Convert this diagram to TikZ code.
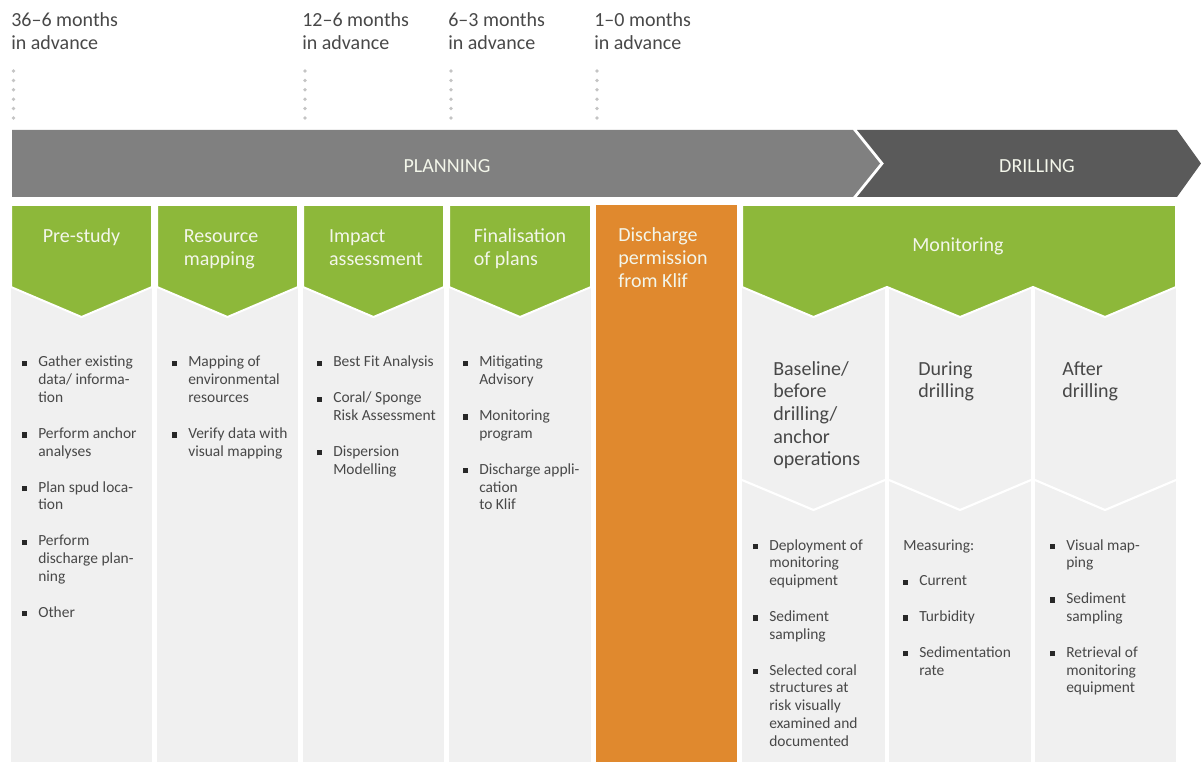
\documentclass[tikz,border=0pt]{standalone}
\usepackage{fontspec}
\setmainfont{Carlito}
\definecolor{grn}{RGB}{141,184,58}
\definecolor{orng}{RGB}{224,137,46}
\definecolor{lgray}{RGB}{240,240,240}
\definecolor{plang}{RGB}{128,128,128}
\definecolor{drillg}{RGB}{90,90,90}
\definecolor{txt}{RGB}{72,72,72}
\definecolor{bulc}{RGB}{40,40,40}
\definecolor{headtxt}{RGB}{243,246,234}
\definecolor{dotc}{RGB}{196,196,196}
\newcommand{\bu}{\makebox[12pt][l]{\textcolor{bulc}{\rule[0.7pt]{3.9pt}{3.9pt}}}}
\newcommand{\ii}{\hspace*{12pt}}
\newcommand{\tb}[1]{\begin{tabular}[t]{@{}l@{}}#1\end{tabular}}
\tikzset{
  bigfont/.style={font=\fontsize{15pt}{17pt}\selectfont},
  smallfont/.style={font=\fontsize{11.6pt}{13.4pt}\selectfont},
  toplab/.style={bigfont, text=txt, inner sep=0pt, anchor=base west},
  headlab/.style={bigfont, text=headtxt, inner sep=0pt, anchor=base},
  bandlab/.style={bigfont, text=headtxt, inner sep=0pt, anchor=base},
  sublab/.style={bigfont, text=txt, inner sep=0pt, anchor=base west},
  listlab/.style={smallfont, text=txt, inner sep=0pt, anchor=base west},
  colbox/.style={fill=lgray},
  greenhead/.style={fill=grn, draw=white, line width=1.5pt, line join=miter},
  whiteline/.style={draw=white, line width=1.6pt},
  dotmark/.style={fill=dotc}
}
\begin{document}
\begin{tikzpicture}[x=0.75pt, y=-0.75pt]
\useasboundingbox (0,0) rectangle (1201,762);

% top labels
\node[toplab] (t1) at (11,27) {\tb{36–6 months\\in advance}};
\node[toplab] (t2) at (302,27) {\tb{12–6 months\\in advance}};
\node[toplab] (t3) at (448,27) {\tb{6–3 months\\in advance}};
\node[toplab] (t4) at (594,27) {\tb{1–0 months\\in advance}};

% dotted markers
\foreach \xx in {13.5,305,451,597}{
  \foreach \k in {0,...,5}{
    \fill[dotmark] (\xx,{71+\k*9.4}) circle[radius=1.4pt];
  }
}

% band
\fill[drillg] (857,130) -- (1177,130) -- (1201,163.5) -- (1177,197) -- (857,197) -- (884,163.5) -- cycle;
\fill[plang] (12,130) -- (853,130) -- (880,163.5) -- (853,197) -- (12,197) -- cycle;
\node[bandlab] (planning) at (447,173) {PLANNING};
\node[bandlab] (drilling) at (1037,173) {DRILLING};

% grey columns
\fill[colbox] (11,280) rectangle (152,762);
\fill[colbox] (157,280) rectangle (298,762);
\fill[colbox] (303,280) rectangle (444,762);
\fill[colbox] (449,280) rectangle (591,762);
\fill[orng] (596,205) rectangle (737,762);
\fill[colbox] (742,280) rectangle (885,762);
\fill[colbox] (889,280) rectangle (1031,762);
\fill[colbox] (1035,280) rectangle (1176,762);

% green chevrons
\filldraw[greenhead] (11,205) -- (152,205) -- (152,287) -- (81.5,317) -- (11,287) -- cycle;
\filldraw[greenhead] (157,205) -- (298,205) -- (298,287) -- (227.5,317) -- (157,287) -- cycle;
\filldraw[greenhead] (303,205) -- (444,205) -- (444,287) -- (373.5,317) -- (303,287) -- cycle;
\filldraw[greenhead] (449,205) -- (591,205) -- (591,287) -- (520,317) -- (449,287) -- cycle;
\filldraw[greenhead] (742,205) -- (1176,205) -- (1176,287) -- (1105,317) -- (1033,287) -- (960,317) -- (887,287) -- (813.5,317) -- (742,287) -- cycle;

% lower white chevrons in monitoring
\draw[whiteline] (742,480) -- (813.5,510) -- (885,480);
\draw[whiteline] (889,480) -- (960,510) -- (1031,480);
\draw[whiteline] (1035,480) -- (1105,510) -- (1176,480);

% headers
\node[headlab] (h1) at (81.5,243) {\tb{Pre-study}};
\node[headlab] (h2) at (221,243) {\tb{Resource\\mapping}};
\node[headlab] (h3) at (376,243) {\tb{Impact\\assessment}};
\node[headlab] (h4) at (520,243) {\tb{Finalisation\\of plans}};
\node[headlab] (h5) at (663,242) {\tb{Discharge\\permission\\from Klif}};
\node[headlab] (h6) at (958,252) {Monitoring};

% monitoring sub headers
\node[sublab] (s1) at (773,375) {\tb{Baseline/\\before\\drilling/\\anchor\\operations}};
\node[sublab] (s2) at (918,375) {\tb{During\\drilling}};
\node[sublab] (s3) at (1062,375) {\tb{After\\drilling}};

% lists
\node[listlab] (l1) at (22,367) {\tb{\bu Gather existing\\ \ii data/ informa-\\ \ii tion\\[13.4pt]
  \bu Perform anchor\\ \ii analyses\\[13.4pt]
  \bu Plan spud loca-\\ \ii tion\\[13.4pt]
  \bu Perform\\ \ii discharge plan-\\ \ii ning\\[13.4pt]
  \bu Other}};
\node[listlab] (l2) at (172,367) {\tb{\bu Mapping of\\ \ii environmental\\ \ii resources\\[13.4pt]
  \bu Verify data with\\ \ii visual mapping}};
\node[listlab] (l3) at (317,367) {\tb{\bu Best Fit Analysis\\[13.4pt]
  \bu Coral/ Sponge\\ \ii Risk Assessment\\[13.4pt]
  \bu Dispersion\\ \ii Modelling}};
\node[listlab] (l4) at (463,367) {\tb{\bu Mitigating\\ \ii Advisory\\[13.4pt]
  \bu Monitoring\\ \ii program\\[13.4pt]
  \bu Discharge appli-\\ \ii cation\\ \ii to Klif}};
\node[listlab] (m1) at (753,550) {\tb{\bu Deployment of\\ \ii monitoring\\ \ii equipment\\[13.4pt]
  \bu Sediment\\ \ii sampling\\[13.4pt]
  \bu Selected coral\\ \ii structures at\\ \ii risk visually\\ \ii examined and\\ \ii documented}};
\node[listlab] (m2) at (903,550) {\tb{Measuring:\\[13.4pt]
  \bu Current\\[13.4pt]
  \bu Turbidity\\[13.4pt]
  \bu Sedimentation\\ \ii rate}};
\node[listlab] (m3) at (1050,550) {\tb{\bu Visual map-\\ \ii ping\\[13.4pt]
  \bu Sediment\\ \ii sampling\\[13.4pt]
  \bu Retrieval of\\ \ii monitoring\\ \ii equipment}};
\end{tikzpicture}
\end{document}
